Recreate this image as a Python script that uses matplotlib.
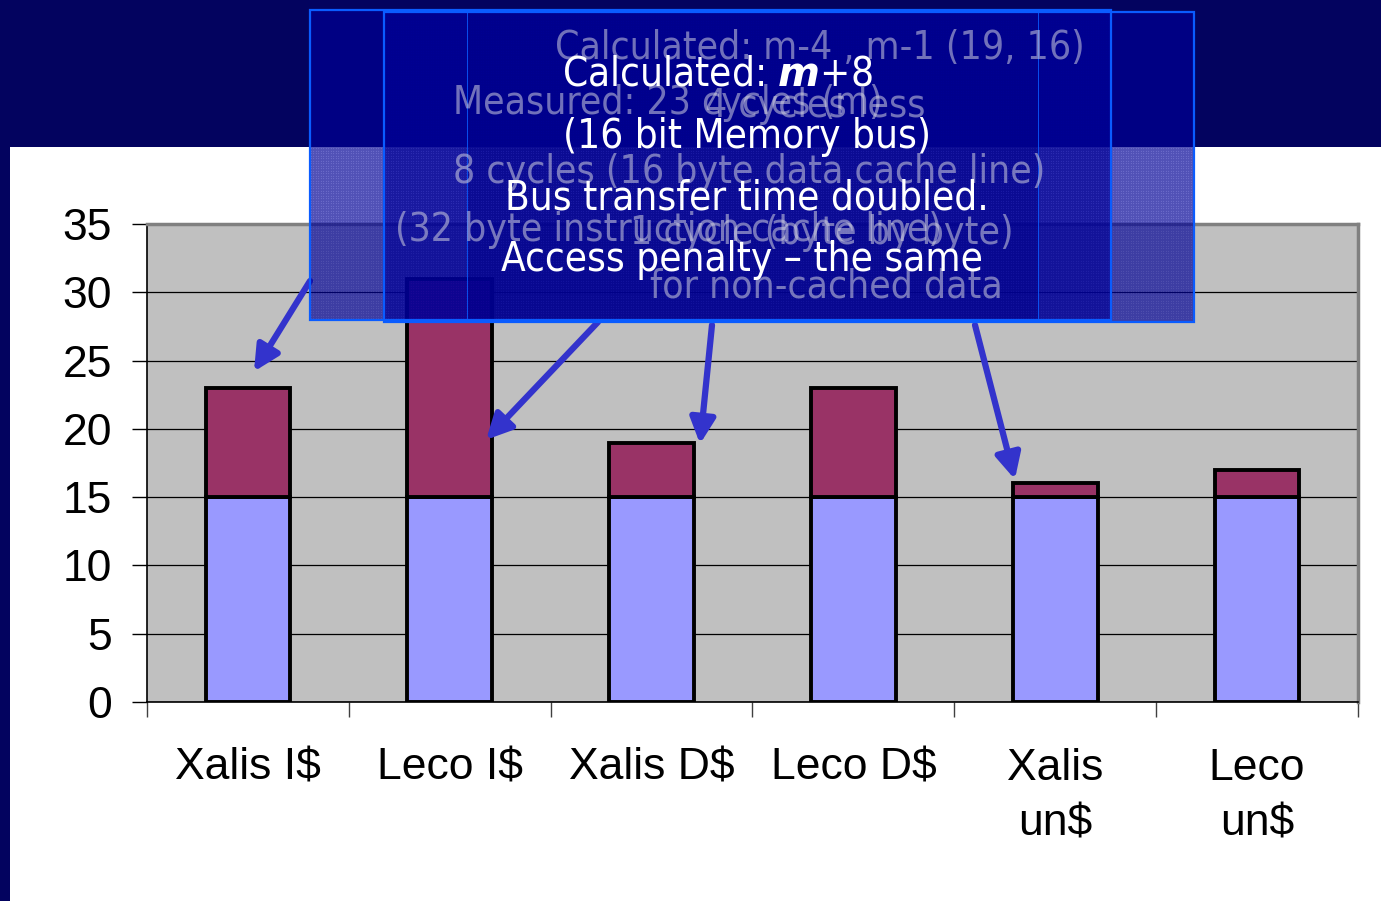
import matplotlib
matplotlib.use("Agg")
import matplotlib.pyplot as plt
from matplotlib.patches import Rectangle
import numpy as np

# Data
categories = ["Xalis I$", "Leco I$", "Xalis D$", "Leco D$", "Xalis\nun$", "Leco\nun$"]
base = [15, 15, 15, 15, 15, 15]
penalty = [8, 16, 4, 8, 1, 2]
y_ticks = [0, 5, 10, 15, 20, 25, 30, 35]

# callout texts
faint_lines = [
    "Calculated: m-4 , m-1 (19, 16)",
    "Measured: 23 cycles (m)",
    "4 cycles less",
    "8 cycles (16 byte data cache line)",
    "(32 byte instruction cache line)",
    "1 cycle (byte by byte)",
    "for non-cached data",
]
main_lines = [
    "Calculated: $m$+8",
    "(16 bit Memory bus)",
    "Bus transfer time doubled.",
    "Access penalty \u2013 the same",
]

W, H = 1381, 901
NAVY = "#03035f"

plt.rcParams["font.family"] = "Liberation Sans"
plt.rcParams["mathtext.fontset"] = "custom"
plt.rcParams["mathtext.it"] = "DejaVu Sans:italic:bold"
plt.rcParams["hatch.linewidth"] = 0.7


def fx(x):
    return x / W


def fy(y):
    return 1 - y / H


fig = plt.figure(figsize=(W / 100, H / 100), dpi=100, facecolor="white")

# slide background: navy title band and left strip
fig.add_artist(Rectangle((0, fy(147)), 1, 1 - fy(147), transform=fig.transFigure,
                         facecolor=NAVY, edgecolor="none", zorder=-2))
fig.add_artist(Rectangle((0, 0), fx(10), 1, transform=fig.transFigure,
                         facecolor=NAVY, edgecolor="none", zorder=-2))

ax = fig.add_axes([fx(147), fy(702), fx(1358) - fx(147), fy(224) - fy(702)])
ax.set_facecolor("#c0c0c0")

x = np.arange(len(categories))
ax.bar(x, base, width=0.42, color="#9999ff", edgecolor="black", linewidth=2.8, zorder=3)
ax.bar(x, penalty, bottom=base, width=0.42, color="#993366", edgecolor="black",
       linewidth=2.8, zorder=3)

ax.set_xlim(-0.5, len(categories) - 0.5)
ax.set_ylim(0, 35)
ax.set_yticks(y_ticks)
ax.yaxis.grid(True, color="black", linewidth=0.9)
ax.set_axisbelow(True)

ax.set_xticks(x)
ax.set_xticklabels(categories, fontsize=32, linespacing=1.45)
ax.set_xticks(np.arange(-0.5, len(categories)), minor=True)
ax.tick_params(axis="x", which="major", length=0, pad=33)
ax.tick_params(axis="x", which="minor", length=11, width=1, color="#404040")
ax.tick_params(axis="y", length=11, width=1, pad=14, labelsize=32)

ax.spines["left"].set_color("black")
ax.spines["bottom"].set_color("black")
ax.spines["left"].set_linewidth(1.2)
ax.spines["bottom"].set_linewidth(1.2)
ax.spines["top"].set_color("#808080")
ax.spines["right"].set_color("#808080")
ax.spines["top"].set_linewidth(2.5)
ax.spines["right"].set_linewidth(2.5)

# arrows pointing at the bars (tip in data coords, tail in figure coords)
arrow_tips = [(0.03, 24.2), (1.18, 19.2), (2.24, 18.9), (3.80, 16.3)]
arrow_tails = [(310, 281), (598, 322), (712, 325), (975, 325)]
for tip, tail in zip(arrow_tips, arrow_tails):
    ax.annotate("", xy=tip, xycoords="data",
                xytext=(fx(tail[0]), fy(tail[1])), textcoords="figure fraction",
                annotation_clip=False,
                arrowprops=dict(arrowstyle="-|>", color="#3333cc", lw=4.5,
                                mutation_scale=38, shrinkA=0, shrinkB=0))

# translucent callout boxes
boxes = [(310, 10, 1111, 320), (384, 12, 1194, 322), (467, 10, 1038, 320)]
for i, (x0, y0, x1, y1) in enumerate(boxes):
    rect = (fx(x0), fy(y1))
    w, h = fx(x1) - fx(x0), fy(y0) - fy(y1)
    fig.add_artist(Rectangle(rect, w, h, transform=fig.transFigure,
                             facecolor="#0000c0", alpha=0.42 if i < 2 else 0.15,
                             edgecolor="none", zorder=5))
    fig.add_artist(Rectangle(rect, w, h, transform=fig.transFigure,
                             facecolor="none", edgecolor="#000080", hatch="+" * 10,
                             linewidth=0, alpha=0.45, zorder=5))
    fig.add_artist(Rectangle(rect, w, h, transform=fig.transFigure,
                             facecolor="none", edgecolor="#0a5cff",
                             linewidth=1.6 if i < 2 else 0.6, zorder=6))

# faint text from the underlying builds
faint_pos = [(555, 48), (453, 103), (705, 106), (453, 172), (395, 230), (630, 233), (650, 287)]
for s, (px, py) in zip(faint_lines, faint_pos):
    fig.text(fx(px), fy(py), s, fontsize=28, family="DejaVu Sans", stretch="condensed",
             color="#d0d0e0", alpha=0.55, ha="left", va="center", zorder=7)

# main callout text
main_pos = [(717, 75), (747, 137), (747, 198), (742, 260)]
for s, (px, py) in zip(main_lines, main_pos):
    fig.text(fx(px), fy(py), s, fontsize=29, family="DejaVu Sans", stretch="condensed",
             color="white", ha="center", va="center", zorder=8)

fig.savefig("out.png", dpi=100, facecolor=fig.get_facecolor())
